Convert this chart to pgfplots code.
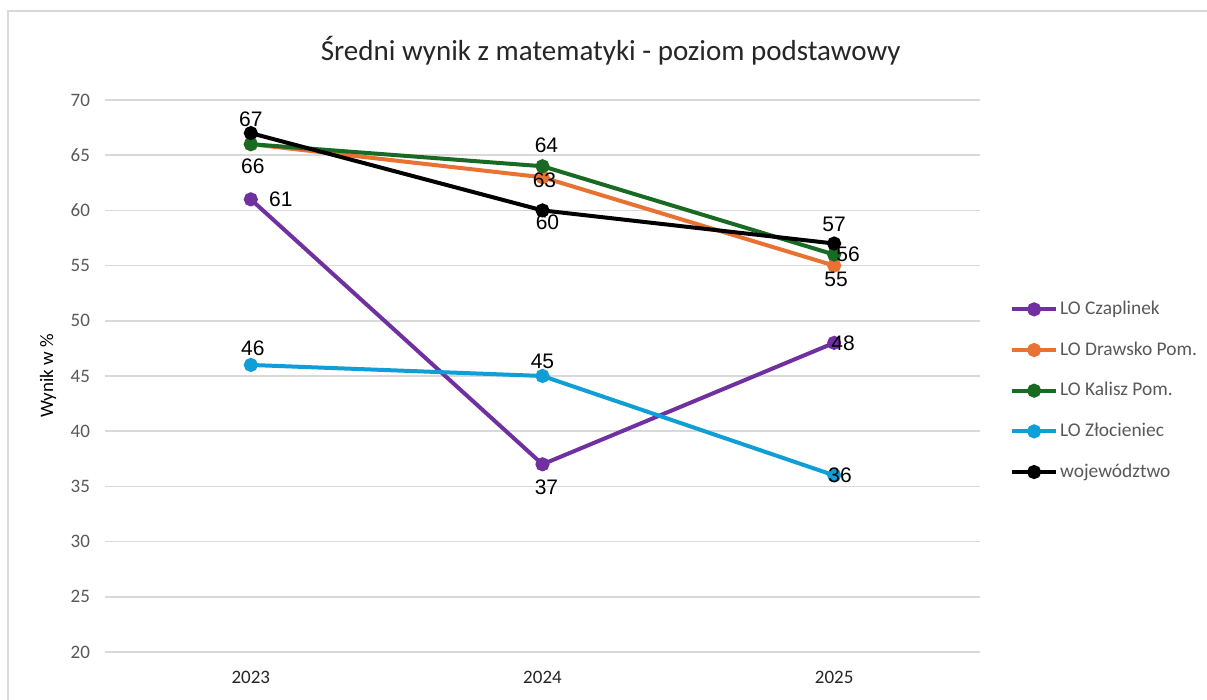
\documentclass[border=0pt]{standalone}
\usepackage{fontspec}
\setmainfont{Carlito}
\newfontfamily\labf{Liberation Sans}
\usepackage{pgfplots}
\pgfplotsset{compat=1.18}
\usepackage{pgfplotstable}
\definecolor{cz}{HTML}{7030A0}
\definecolor{dr}{HTML}{E97132}
\definecolor{ka}{HTML}{196B24}
\definecolor{zl}{HTML}{0F9ED5}
\definecolor{gridc}{HTML}{D9D9D9}
\definecolor{txt}{HTML}{595959}
\pgfplotstableread{
x y dx dy
0 61 15 0
1 37 2 -11.5
2 48 4.5 0
}\tczap
\pgfplotstableread{
x y dx dy
0 66 1 -11
1 63 1 -1.5
2 55 1 -7
}\tdraw
\pgfplotstableread{
x y dx dy lab
0 66 1 -11 {}
1 64 2 10.5 64
2 56 7 0 56
}\tkal
\pgfplotstableread{
x y dx dy
0 46 1 8.5
1 45 0 7.5
2 36 3 0
}\tzl
\pgfplotstableread{
x y dx dy
0 67 0 7
1 60 2.5 -6
2 57 0 9.5
}\twoj
\pgfplotsset{ser/.style={line width=2pt, mark=*, mark size=2.5pt, mark options={solid},
  nodes near coords={\labf\pgfmathprintnumber[assume math mode=true]{\pgfplotspointmeta}},
  visualization depends on={\thisrow{dx}\as\dxv},
  visualization depends on={\thisrow{dy}\as\dyv},
  every node near coord/.style={anchor=center, xshift=\dxv pt, yshift=\dyv pt, inner sep=0pt,
    font=\labf\fontsize{10.5}{12}\selectfont, text=black}}}
\begin{document}
\begin{tikzpicture}
\path[use as bounding box] (0,0) rectangle (603.5pt,350pt);
\clip (0,0) rectangle (603.5pt,350pt);
\fill[white] (0,0) rectangle (603.5pt,350pt);
\draw[gridc, line width=1pt] (4pt,-10pt) rectangle (620pt,344.5pt);
\begin{axis}[at={(52.5pt,24pt)}, anchor=south west, scale only axis,
  width=437.5pt, height=276pt,
  xmin=-0.5, xmax=2.5, ymin=20, ymax=70,
  xtick={0,1,2}, xticklabels={2023,2024,2025},
  ytick={20,25,...,70},
  /pgf/number format/assume math mode=true,
  axis line style={draw=none}, tick style={draw=none},
  ymajorgrids, grid style={gridc, line width=0.8pt},
  clip=false,
  yticklabel style={font=\fontsize{9.5}{11}\selectfont, text=txt, xshift=-4pt},
  xticklabel style={font=\fontsize{9.5}{11}\selectfont, text=black!85, yshift=-6pt},
  ylabel={Wynik w \%},
  every axis y label/.style={at={(axis description cs:-0.065,0.5)}, rotate=90, anchor=center, font=\fontsize{9.5}{11}\selectfont, text=black},
  title={Średni wynik z matematyki - poziom podstawowy},
  every axis title/.style={at={(axis description cs:0.578,1.09)}, anchor=center, font=\fontsize{14.5}{16}\selectfont, text=black!85},
  legend style={at={(1.034,0.64)}, anchor=north west, draw=none, fill=none,
    font=\fontsize{9.7}{11}\selectfont, text=txt, row sep=10.1pt, inner sep=0pt,
    nodes={inner sep=1pt}},
  legend cell align=left,
  legend image code/.code={\draw[mark repeat=2,mark phase=2,#1] plot coordinates {(0pt,0pt) (11pt,0pt) (22pt,0pt)};},
]
\addplot[ser, color=cz] table[x=x,y=y] {\tczap};
\addlegendentry{LO Czaplinek}
\addplot[ser, color=dr] table[x=x,y=y] {\tdraw};
\addlegendentry{LO Drawsko Pom.}
\addplot[ser, color=ka, point meta=explicit symbolic,
  nodes near coords={\labf\pgfplotspointmeta}] table[x=x,y=y,meta=lab] {\tkal};
\addlegendentry{LO Kalisz Pom.}
\addplot[ser, color=zl] table[x=x,y=y] {\tzl};
\addlegendentry{LO Złocieniec}
\addplot[ser, color=black] table[x=x,y=y] {\twoj};
\addlegendentry{województwo}
\end{axis}
\end{tikzpicture}
\end{document}
